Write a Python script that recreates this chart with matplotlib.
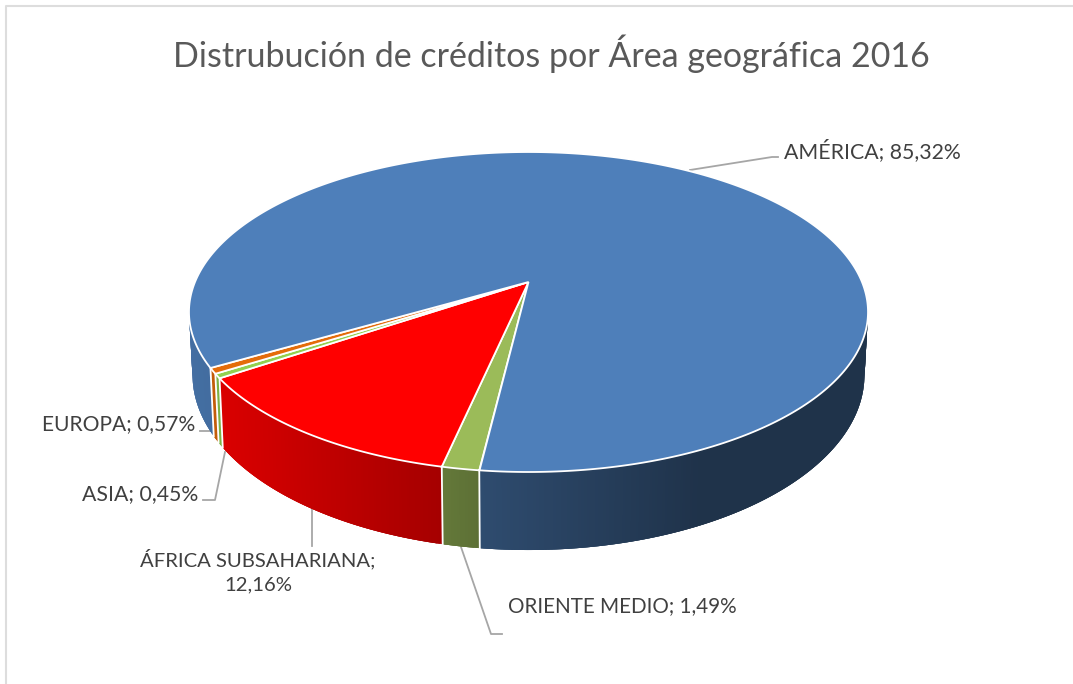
import numpy as np
import matplotlib
matplotlib.use("Agg")
import matplotlib.pyplot as plt

# slices, clockwise from the front of the pie
names = ["ORIENTE MEDIO", "ÁFRICA SUBSAHARIANA", "ASIA", "EUROPA", "AMÉRICA"]
values = [1.49, 12.16, 0.45, 0.57, 85.32]
title = "Distrubución de créditos por Área geográfica 2016"

colors = ["#9BBB59", "#FF0000", "#92D050", "#E46C0A", "#4E7FBA"]

# perspective of the pie (pixels)
cx = 528.5
c = 0.1875
top_d, top_a, top_b = 333.5, -101.5, 282.0
low_d, low_a, low_b = 330.0, -104.7, 342.2
start = 6.9

# wall brightness against screen x
shade_x = [190, 225, 440, 480, 700, 870]
shade_v = [0.87, 0.85, 0.65, 0.60, 0.40, 0.40]


def rim(t, d, a, b):
    t = np.radians(t)
    x, y = -np.sin(t), -np.cos(t)
    w = 1 + c * y
    return cx + d * x / w, (a * y + b) / w


def darker(col, v):
    return tuple(np.array(matplotlib.colors.to_rgb(col)) * v)


plt.rcParams['font.family'] = ['Lato', 'DejaVu Sans']
fig = plt.figure(figsize=(10.73, 6.84), dpi=100)
ax = fig.add_axes([0, 0, 1, 1])
ax.set_xlim(0, 1073)
ax.set_ylim(684, 0)
ax.axis('off')

# border of the screenshot
ax.plot([6, 6, 1073], [684, 5.5, 5.5], color="#DDDDDD", lw=1.5, zorder=1)

edges = start + np.cumsum([0] + values) * 3.6

# side wall, each strip runs on under the next one so no seams show
for i in range(len(values)):
    ts = np.append(np.arange(edges[i], edges[i + 1], 0.4), edges[i + 1])
    for t0 in ts[:-1]:
        x0, y0 = rim(t0, top_d, top_a, top_b)
        if y0 < 295:
            continue
        t1 = min(t0 + 1.2, edges[i + 1])
        x1, y1 = rim(t1, top_d, top_a, top_b)
        x2, y2 = rim(t1, low_d, low_a, low_b)
        x3, y3 = rim(t0, low_d, low_a, low_b)
        col = darker(colors[i], np.interp(x0, shade_x, shade_v))
        ax.fill([x0, x1, x2, x3], [y0, y1, y2, y3], color=col, lw=0, zorder=2)

for t in edges[:-1]:
    x0, y0 = rim(t, top_d, top_a, top_b)
    x1, y1 = rim(t, low_d, low_a, low_b)
    ax.plot([x0, x1], [y0, y1], color="white", lw=1.3, zorder=3)

# top face
for i in range(len(values)):
    ts = np.linspace(edges[i], edges[i + 1], 400)
    xs, ys = rim(ts, top_d, top_a, top_b)
    ax.fill(np.r_[cx, xs], np.r_[top_b, ys], facecolor=colors[i], edgecolor="white",
            lw=1.3, joinstyle='miter', zorder=4)

# labels and leader lines
labels = [f"{n}; {v:.2f}%".replace(".", ",") for n, v in zip(names, values)]
labels[1] = labels[1].replace("; ", ";\n")

leader_color = "#A6A6A6"
ax.plot([690, 772, 778], [170, 157, 157], color=leader_color, lw=1.3, zorder=3)
ax.plot([200, 214, 222], [431, 431, 445], color=leader_color, lw=1.3, zorder=1.5)
ax.plot([225, 215, 203], [452, 500, 500], color=leader_color, lw=1.3, zorder=1.5)
ax.plot([312, 312], [508, 546], color=leader_color, lw=1.3, zorder=1.5)
ax.plot([461, 491, 502], [547, 634, 634], color=leader_color, lw=1.3, zorder=1.5)

kw = dict(color="#404040", zorder=6, va='center')
ax.text(508, 606, labels[0], ha='left', fontsize=14.9, **kw)
ax.text(258, 571, labels[1], ha='center', linespacing=1.55, fontsize=14.6, **kw)
ax.text(198, 494, labels[2], ha='right', fontsize=15.3, **kw)
ax.text(195, 424, labels[3], ha='right', fontsize=15.1, **kw)
ax.text(784, 151, labels[4], ha='left', fontsize=15.3, **kw)

ax.text(551, 54, title, color="#595959", fontsize=24.5, ha='center', va='center', zorder=6)

fig.savefig("out.png", dpi=100)
